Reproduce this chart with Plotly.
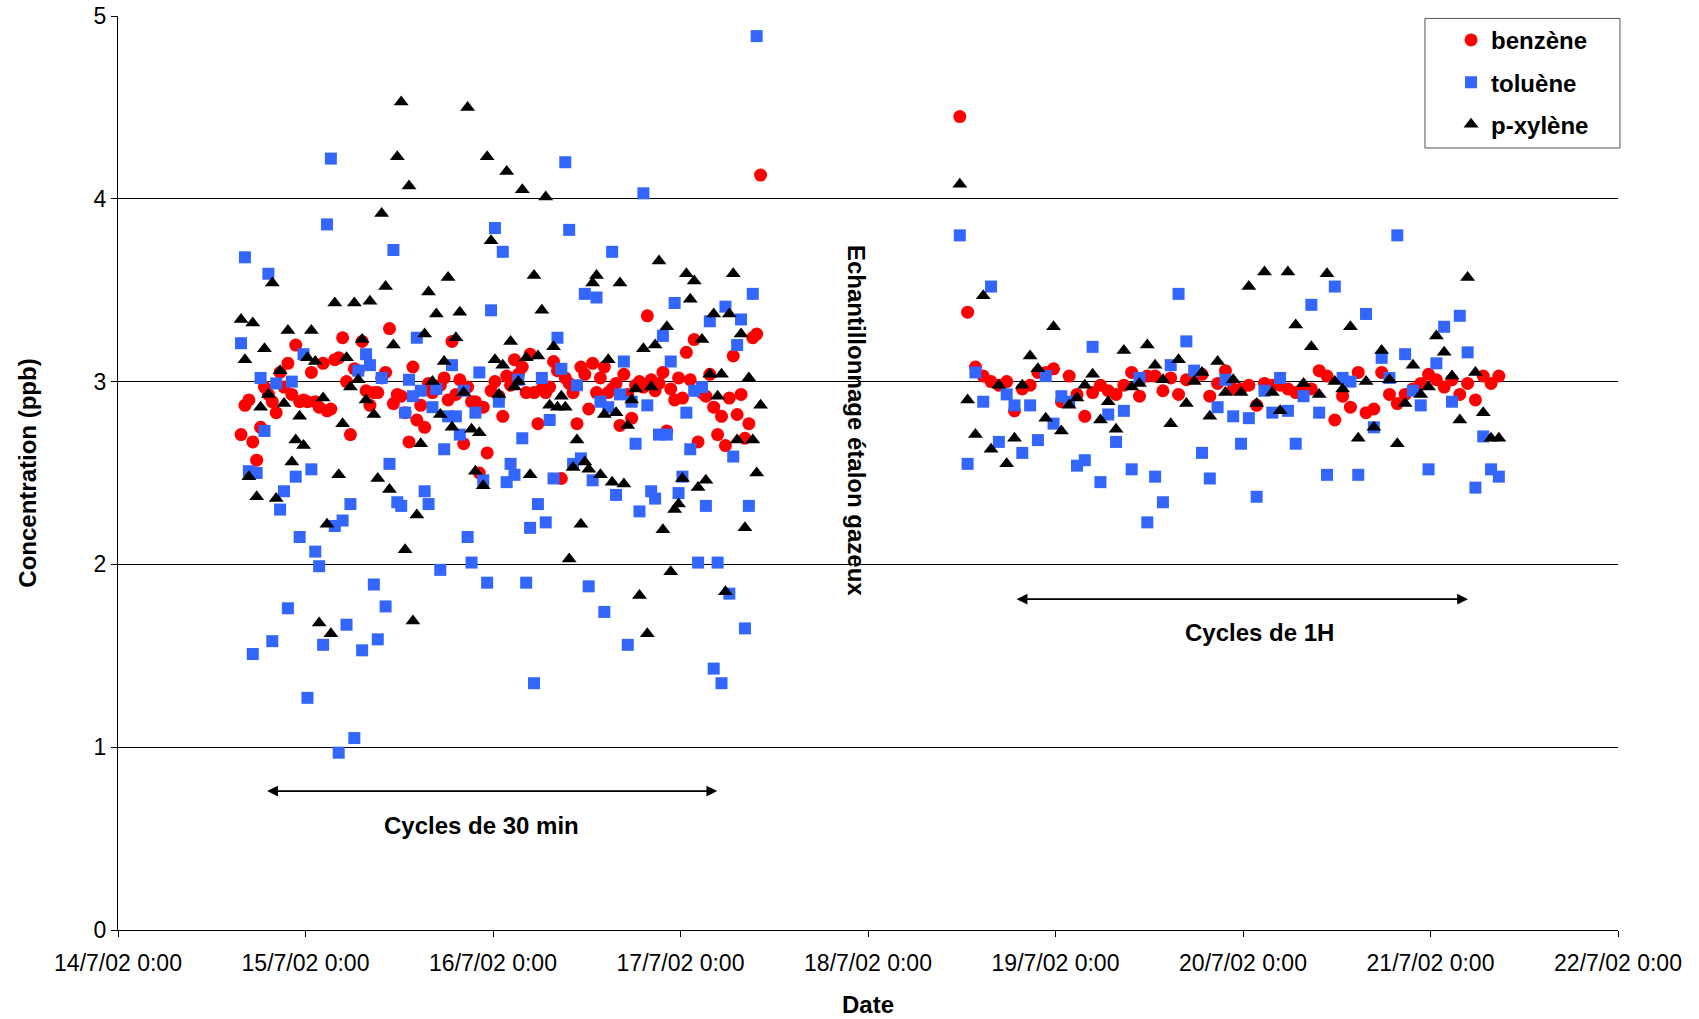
import pandas as pd
import plotly.graph_objects as go

# --- Campaign 1: 30-minute cycles, starting 14/7/02 15:45 ---
cycle30_start = "2002-07-14 15:45"
benzene_30 = [
    2.71, 2.87, 2.90, 2.67, 2.57, 2.75, 2.97, 2.93, 2.89, 2.83,
    3.05, 2.97, 3.10, 2.93, 3.20, 2.89, 2.90, 2.89, 3.05, 2.89,
    2.86, 3.10, 2.84, 2.85, 3.12, 3.13, 3.24, 3.00, 2.71, 3.07,
    3.06, 3.22, 2.95, 2.87, 2.94, 2.94, 3.02, 3.05, 3.29, 2.88,
    2.93, 2.92, 2.83, 2.67, 3.08, 2.79, 2.87, 2.75, 2.99, 2.94,
    2.96, 2.98, 3.02, 2.90, 3.22, 2.93, 3.01, 2.66, 2.97, 2.89,
    2.89, 2.50, 2.86, 2.61, 2.95, 3.00, 2.92, 2.81, 3.03, 2.98,
    3.12, 3.04, 3.08, 2.94, 3.15, 2.94, 2.77, 2.96, 2.94, 2.97,
    3.11, 3.06, 2.47, 3.02, 2.99, 2.94, 2.77, 3.08, 3.04, 2.85,
    3.10, 2.94, 3.02, 3.08, 2.94, 2.96, 2.99, 2.76, 3.04, 2.93,
    2.80, 2.98, 3.00, 2.97, 3.36, 3.01, 2.95, 2.99, 3.05, 2.73,
    2.96, 2.90, 3.02, 2.91, 3.16, 3.01, 3.23, 2.67, 2.94, 2.92,
    3.04, 2.86, 2.71, 2.81, 2.65, 2.91, 3.14, 2.82, 2.93, 2.69,
    2.77, 3.24, 3.26, 4.13,
]
toluene_30 = [
    3.21, 3.68, 2.51, 1.51, 2.50, 3.02, 2.73, 3.59, 1.58, 2.99,
    2.30, 2.40, 1.76, 3.00, 2.48, 2.15, 3.15, 1.27, 2.52, 2.07,
    1.99, 1.56, 3.86, 4.22, 2.21, 0.97, 2.24, 1.67, 2.33, 1.05,
    3.06, 1.53, 3.15, 3.09, 1.89, 1.59, 3.02, 1.77, 2.55, 3.72,
    2.34, 2.32, 2.83, 3.01, 2.92, 3.24, 2.95, 2.40, 2.33, 2.86,
    2.96, 1.97, 2.63, 2.81, 3.09, 2.81, 2.71, 2.95, 2.15, 2.01,
    2.83, 3.05, 2.46, 1.90, 3.39, 3.84, 2.89, 3.71, 2.45, 2.55,
    2.49, 3.01, 2.69, 1.90, 2.20, 1.35, 2.33, 3.02, 2.23, 2.79,
    2.47, 3.24, 3.07, 4.20, 3.83, 2.55, 2.98, 2.58, 3.48, 1.88,
    2.46, 3.46, 2.89, 1.74, 2.86, 3.71, 2.38, 2.93, 3.11, 1.56,
    2.89, 2.66, 2.29, 4.03, 2.87, 2.40, 2.36, 2.71, 3.25, 2.71,
    3.11, 3.43, 2.39, 2.48, 2.83, 2.63, 2.95, 2.01, 2.97, 2.32,
    3.33, 1.43, 2.01, 1.35, 3.41, 1.84, 2.59, 3.20, 3.34, 1.65,
    2.32, 3.48, 4.89,
]
xylene_30 = [
    3.34, 3.12, 2.48, 3.32, 2.37, 2.86, 3.18, 2.93, 3.54, 2.36,
    3.06, 2.88, 3.28, 2.56, 2.68, 2.81, 2.65, 3.13, 3.28, 3.11,
    1.68, 2.91, 2.22, 1.62, 3.43, 2.49, 2.77, 3.13, 2.97, 3.43,
    3.01, 3.23, 2.90, 3.44, 2.82, 2.47, 3.92, 3.52, 2.41, 3.20,
    4.23, 4.53, 2.08, 4.07, 1.69, 2.27, 2.66, 3.26, 3.49, 3.00,
    3.37, 2.82, 3.11, 3.57, 2.75, 3.24, 3.38, 2.94, 4.50, 2.74,
    2.51, 2.72, 2.43, 4.23, 3.77, 3.12, 2.93, 3.09, 4.15, 3.22,
    2.97, 3.00, 4.05, 3.13, 2.49, 3.58, 3.14, 3.39, 4.01, 2.87,
    3.19, 2.86, 2.92, 2.86, 2.03, 2.53, 2.68, 2.22, 2.56, 2.52,
    3.54, 3.58, 2.49, 2.82, 3.12, 2.45, 2.83, 3.54, 2.44, 2.76,
    2.90, 2.96, 1.83, 3.18, 1.62, 2.97, 3.20, 3.66, 2.19, 3.30,
    1.96, 2.30, 2.33, 2.47, 3.59, 3.45, 3.55, 2.42, 3.23, 2.46,
    3.04, 3.37, 2.92, 3.04, 1.85, 3.37, 3.59, 2.68, 3.26, 2.20,
    3.02, 2.68, 2.50, 2.87,
]

# --- Campaign 2: 1-hour cycles, starting 18/7/02 11:45 ---
cycle1h_start = "2002-07-18 11:45"
benzene_1h = [
    4.45, 3.38, 3.08, 3.03, 3.00, 2.98, 3.00, 2.84, 2.96, 2.98,
    3.05, 3.05, 3.07, 2.89, 3.03, 2.93, 2.81, 2.94, 2.98, 2.95,
    2.93, 2.98, 3.05, 2.92, 3.03, 3.03, 2.95, 3.02, 2.93, 3.01,
    3.03, 3.04, 2.92, 2.99, 3.06, 2.96, 2.96, 2.98, 2.87, 2.99,
    2.98, 2.98, 2.96, 2.94, 2.96, 2.96, 3.06, 3.03, 2.79, 2.92,
    2.86, 3.05, 2.83, 2.85, 3.05, 2.93, 2.88, 2.93, 2.96, 2.99,
    3.04, 3.01, 2.97, 3.01, 2.93, 2.99, 2.90, 3.03, 2.99, 3.03,
]
toluene_1h = [
    3.80, 2.55, 3.05, 2.89, 3.52, 2.67, 2.93, 2.87, 2.61, 2.87,
    2.68, 3.03, 2.77, 2.92, 2.89, 2.54, 2.57, 3.19, 2.45, 2.82,
    2.67, 2.84, 2.52, 3.02, 2.23, 2.48, 2.34, 3.09, 3.48, 3.22,
    3.06, 2.61, 2.47, 2.86, 3.01, 2.81, 2.66, 2.80, 2.37, 2.95,
    2.83, 3.02, 2.84, 2.66, 2.92, 3.42, 2.83, 2.49, 3.52, 3.02,
    3.00, 2.49, 3.37, 2.75, 3.13, 3.02, 3.80, 3.15, 2.95, 2.87,
    2.52, 3.10, 3.30, 2.89, 3.36, 3.16, 2.42, 2.70, 2.52, 2.48,
]
xylene_1h = [
    4.08, 2.90, 2.71, 3.47, 2.63, 2.98, 2.55, 2.69, 2.98, 3.14,
    3.07, 2.80, 3.30, 2.73, 2.87, 2.91, 2.98, 3.04, 2.79, 2.89,
    2.74, 3.17, 2.97, 2.99, 3.20, 3.09, 3.01, 2.77, 3.12, 2.88,
    3.00, 3.05, 2.81, 3.11, 2.94, 3.01, 2.94, 3.52, 2.88, 3.60,
    2.94, 2.84, 3.60, 3.31, 2.99, 3.19, 2.93, 3.59, 3.00, 2.96,
    3.30, 2.69, 3.00, 2.75, 3.17, 3.01, 2.66, 2.88, 3.09, 2.93,
    2.97, 3.25, 3.16, 3.03, 2.79, 3.57, 3.05, 2.83, 2.69, 2.69,
]

series_names = ["benzène", "toluène", "p-xylène"]
series_colors = ["#FF0000", "#3366FF", "#000000"]
series_symbols = ["circle", "square", "triangle-up"]
series_sizes = [13, 12, 13]

x_tick_start = "2002-07-14"
x_tick_end = "2002-07-22"

times_30 = pd.date_range(cycle30_start, periods=len(benzene_30), freq="30min")
times_1h = pd.date_range(cycle1h_start, periods=len(benzene_1h), freq="60min")

blocks = [
    (benzene_30, benzene_1h),
    (toluene_30, toluene_1h),
    (xylene_30, xylene_1h),
]

FONT = "Liberation Sans, Arial, sans-serif"

fig = go.Figure()
for (v30, v1h), name, color, symbol, size in zip(
    blocks, series_names, series_colors, series_symbols, series_sizes
):
    xs = list(times_30[: len(v30)]) + list(times_1h[: len(v1h)])
    ys = list(v30) + list(v1h)
    fig.add_trace(
        go.Scatter(
            x=xs,
            y=ys,
            mode="markers",
            name=name,
            legendgroup=name,
            marker=dict(color=color, symbol=symbol, size=size, line=dict(width=0)),
        )
    )

bold = dict(family=FONT, size=24, color="black")

# double-headed span arrows with their captions
spans = [
    ("2002-07-14 18:54", "2002-07-17 04:42", 0.76, "Cycles de 30 min", "2002-07-15 22:35", 0.57),
    ("2002-07-18 18:50", "2002-07-21 04:48", 1.81, "Cycles de 1H", "2002-07-20 02:10", 1.63),
]
annotations = []
for x0, x1, ya, label, xl, yl in spans:
    annotations.append(
        dict(
            x=x1, y=ya, ax=x0, ay=ya, xref="x", yref="y", axref="x", ayref="y",
            text="", showarrow=True, arrowhead=2, arrowside="end+start",
            arrowsize=1.2, arrowwidth=1.8, arrowcolor="black",
        )
    )
    annotations.append(
        dict(x=xl, y=yl, xref="x", yref="y", text="<b>%s</b>" % label,
             showarrow=False, font=bold)
    )
annotations.append(
    dict(x="2002-07-17 22:28", y=2.79, xref="x", yref="y",
         text="<b>Echantillonnage étalon gazeux</b>", textangle=90,
         showarrow=False, font=bold)
)

# legend frame
shapes = [
    dict(type="rect", xref="paper", yref="paper",
         x0=0.8713, x1=1.0013, y0=0.8556, y1=0.9973,
         line=dict(color="#555555", width=1), fillcolor="white", layer="below"),
]

fig.update_layout(
    width=1699,
    height=1019,
    margin=dict(l=118, r=81, t=16, b=89, autoexpand=False),
    paper_bgcolor="white",
    plot_bgcolor="white",
    font=dict(family=FONT, size=23, color="black"),
    showlegend=True,
    legend=dict(
        x=0.8887, xanchor="left", y=0.998, yanchor="top",
        bgcolor="rgba(0,0,0,0)", borderwidth=0,
        font=dict(family=FONT, size=24, color="black", weight="bold"),
        tracegroupgap=8,
        itemwidth=30,
    ),
    shapes=shapes,
    annotations=annotations,
    xaxis=dict(
        type="date",
        range=[x_tick_start, x_tick_end],
        tick0=x_tick_start,
        dtick=86400000,
        tickformat="%-d/%-m/%y %-H:%M",
        showgrid=False,
        showline=True, linecolor="black", linewidth=1,
        ticks="outside", ticklen=6, tickcolor="black",
        tickfont=dict(family=FONT, size=23),
        ticklabelstandoff=6,
        zeroline=False,
        title=dict(text="<b>Date</b>", font=dict(family=FONT, size=24), standoff=21),
        automargin=False,
    ),
    yaxis=dict(
        range=[0, 5],
        dtick=1,
        showgrid=True, gridcolor="black", gridwidth=1,
        showline=True, linecolor="black", linewidth=1,
        ticks="outside", ticklen=6, tickcolor="black",
        tickfont=dict(family=FONT, size=23),
        zeroline=False,
        title=dict(text="<b>Concentration (ppb)</b>", font=dict(family=FONT, size=24), standoff=50),
        automargin=False,
    ),
)

fig.write_html("out.html")
